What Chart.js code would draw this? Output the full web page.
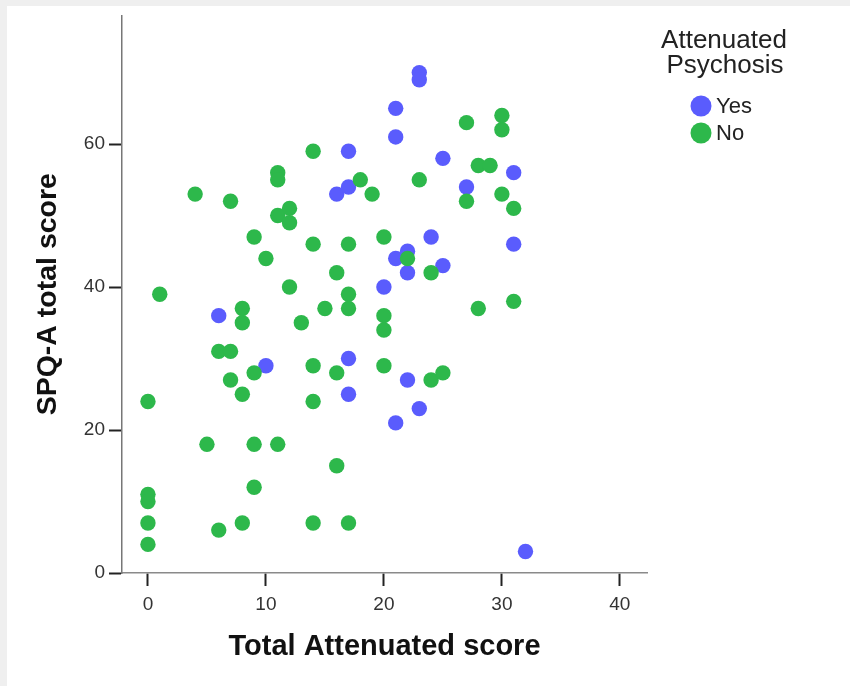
<!DOCTYPE html>
<html>
<head>
<meta charset="utf-8">
<script src="https://cdn.jsdelivr.net/npm/chart.js@4/dist/chart.umd.min.js"></script>
<style>
  html, body { margin: 0; padding: 0; background: #fff; }
  #wrap { position: relative; width: 850px; height: 686px; }
  .strip { position: absolute; background: #efefef; }
  #chart { position: absolute; left: 0; top: 0; }
</style>
</head>
<body>
<div id="wrap">
  <div class="strip" style="left:0;top:0;width:850px;height:6px"></div>
  <div class="strip" style="left:0;top:0;width:7px;height:686px"></div>
  <canvas id="chart" width="850" height="686"></canvas>
</div>
<script>
// Attenuated psychosis = Yes
const yesX = [6, 10, 17, 17, 20, 21, 22, 23, 32, 17, 16, 17, 21, 21, 21, 23, 23, 25, 31, 27, 24, 31, 22, 22, 25];
const yesY = [36, 29, 30, 25, 40, 21, 27, 23, 3, 59, 53, 54, 44, 65, 61, 70, 69, 58, 56, 54, 47, 46, 45, 42, 43];

// Attenuated psychosis = No
const noX = [1, 0, 0, 0, 0, 0, 6, 8, 5, 9, 11, 9, 14, 17, 16, 14, 16, 14, 20, 7, 8, 9, 6, 7, 8, 8, 12, 13, 15, 17, 17, 20, 20, 28, 31, 24, 25,
             4, 7, 11, 11, 14, 18, 19, 11, 12, 12, 9, 10, 14, 17, 16, 20, 27, 30, 30, 28, 29, 23, 27, 30, 31, 22, 24];
const noY = [39, 24, 11, 10, 7, 4, 6, 7, 18, 18, 18, 12, 7, 7, 15, 24, 28, 29, 29, 27, 25, 28, 31, 31, 37, 35, 40, 35, 37, 39, 37, 36, 34, 37, 38, 27, 28,
             53, 52, 56, 55, 59, 55, 53, 50, 51, 49, 47, 44, 46, 46, 42, 47, 63, 64, 62, 57, 57, 55, 52, 53, 51, 44, 42];

const seriesLabels = ['Yes', 'No'];
const legendTitle = ['Attenuated', 'Psychosis'];
const xTicks = [0, 10, 20, 30, 40];
const yTicks = [0, 20, 40, 60];

const blue = '#5a5cfd';
const green = '#2db84b';
const fontFamily = '"Liberation Sans", Arial, sans-serif';

function toPoints(xs, ys) {
    return xs.map((x, i) => ({ x: x, y: ys[i] }));
}

// legend drawn at the right, SPSS style (two line title, dots)
const sideLegend = {
    id: 'sideLegend',
    afterDraw(chart) {
        const ctx = chart.ctx;
        ctx.save();
        ctx.fillStyle = '#222';
        ctx.font = '26px ' + fontFamily;
        ctx.textAlign = 'center';
        ctx.textBaseline = 'middle';
        ctx.fillText(legendTitle[0], 724, 41);
        ctx.fillText(legendTitle[1], 725, 66);

        ctx.font = '22px ' + fontFamily;
        ctx.textAlign = 'left';
        chart.data.datasets.forEach((ds, i) => {
            const cy = 106 + i * 27;
            ctx.fillStyle = ds.backgroundColor;
            ctx.beginPath();
            ctx.arc(701, cy, 10.5, 0, Math.PI * 2);
            ctx.fill();
            ctx.fillStyle = '#222';
            ctx.fillText(ds.label, 716, cy + 1);
        });
        ctx.restore();
    }
};

new Chart(document.getElementById('chart'), {
    type: 'scatter',
    data: {
        datasets: [
            {
                label: seriesLabels[0],
                data: toPoints(yesX, yesY),
                backgroundColor: blue,
                borderWidth: 0,
                pointRadius: 7.7,
                pointHoverRadius: 7.7,
                order: 1,
            },
            {
                label: seriesLabels[1],
                data: toPoints(noX, noY),
                backgroundColor: green,
                borderWidth: 0,
                pointRadius: 7.7,
                pointHoverRadius: 7.7,
                order: 0,
            }
        ]
    },
    options: {
        responsive: false,
        animation: false,
        events: [],
        layout: {
            padding: { top: 13, right: 203, left: 0, bottom: 0 }
        },
        plugins: {
            legend: { display: false },
            tooltip: { enabled: false },
        },
        scales: {
            x: {
                type: 'linear',
                min: -2.2,
                max: 42.3,
                afterBuildTicks: scale => { scale.ticks = xTicks.map(v => ({ value: v })); },
                afterFit: scale => { scale.height = 113; },
                border: { color: '#8a8a8a', width: 1.5 },
                grid: {
                    drawOnChartArea: false,
                    drawTicks: true,
                    tickLength: 13,
                    tickColor: '#222',
                    tickWidth: 2,
                },
                ticks: {
                    padding: 7,
                    color: '#333',
                    font: { family: fontFamily, size: 19 },
                },
                title: {
                    display: true,
                    text: 'Total Attenuated score',
                    color: '#111',
                    padding: { top: 0, bottom: 22 },
                    font: { family: fontFamily, size: 29, weight: 'bold' },
                },
            },
            y: {
                type: 'linear',
                min: 0,
                max: 78,
                afterBuildTicks: scale => { scale.ticks = yTicks.map(v => ({ value: v })); },
                afterFit: scale => { scale.width = 122; },
                border: { color: '#777', width: 1.5 },
                grid: {
                    drawOnChartArea: false,
                    drawTicks: true,
                    tickLength: 13,
                    tickColor: '#222',
                    tickWidth: 2,
                },
                ticks: {
                    padding: 4,
                    color: '#333',
                    font: { family: fontFamily, size: 19 },
                },
                title: {
                    display: true,
                    text: 'SPQ-A total score',
                    color: '#111',
                    padding: { top: 31, bottom: 0 },
                    font: { family: fontFamily, size: 28.5, weight: 'bold' },
                },
            }
        }
    },
    plugins: [sideLegend]
});
</script>
</body>
</html>
